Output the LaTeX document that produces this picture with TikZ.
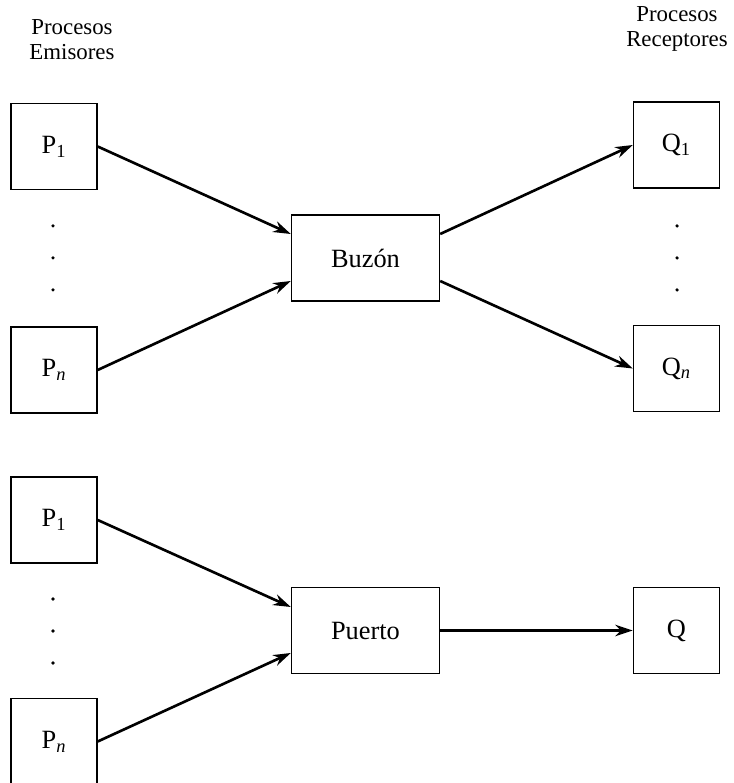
\documentclass[tikz,border=0pt]{standalone}
\usepackage{fontspec}
\setmainfont{Liberation Serif}
\usetikzlibrary{arrows.meta, positioning}
\tikzset{>={Stealth[length=10pt,width=6.5pt]}}
\tikzset{
  proc/.style={draw, line width=0.8pt, minimum width=1.72cm, minimum height=1.72cm, font=\fontsize{15}{17}\selectfont},
  canal/.style={proc, minimum width=2.96cm},
  titulo/.style={align=center, font=\fontsize{13}{14.5}\selectfont},
  flecha/.style={->, line width=1.5pt}
}

\begin{document}
\begin{tikzpicture}
    \useasboundingbox (0,0) rectangle (14.68,15.66);

    \node[titulo] (emisores) at (1.44,14.87) {Procesos\\Emisores};
    \node[titulo] (receptores) at (13.54,15.08) {Procesos\\Receptores};

    % buzon: n emisores, n receptores
    \node[proc] (p1) at (1.08,12.73) {P\textsubscript{1}};
    \node[proc] (pn) at (1.08,8.26) {P\textsubscript{\itshape n}};
    \node[canal] (buzon) at (7.31,10.5) {Buzón};
    \node[proc] (q1) at (13.53,12.76) {Q\textsubscript{1}};
    \node[proc] (qn) at (13.53,8.29) {Q\textsubscript{\itshape n}};

    \draw[flecha] (p1.east) -- ([yshift=0.48cm]buzon.west);
    \draw[flecha] (pn.east) -- ([yshift=-0.46cm]buzon.west);
    \draw[flecha] ([yshift=0.48cm]buzon.east) -- (q1.west);
    \draw[flecha] ([yshift=-0.46cm]buzon.east) -- (qn.west);

    % puerto: n emisores, un receptor
    \node[proc] (pp1) at (1.08,5.26) {P\textsubscript{1}};
    \node[proc] (ppn) at (1.08,0.83) {P\textsubscript{\itshape n}};
    \node[canal] (puerto) at (7.31,3.05) {Puerto};
    \node[proc] (q) at (13.53,3.05) {Q};

    \draw[flecha] (pp1.east) -- ([yshift=0.47cm]puerto.west);
    \draw[flecha] (ppn.east) -- ([yshift=-0.45cm]puerto.west);
    \draw[flecha] (puerto.east) -- (q.west);

    % puntos suspensivos
    \foreach \x in {1.06,13.54}
        \foreach \y in {11.14,10.5,9.86}
            \fill (\x,\y) circle (0.035);
    \foreach \y in {3.68,3.04,2.4}
        \fill (1.06,\y) circle (0.035);
\end{tikzpicture}
\end{document}
